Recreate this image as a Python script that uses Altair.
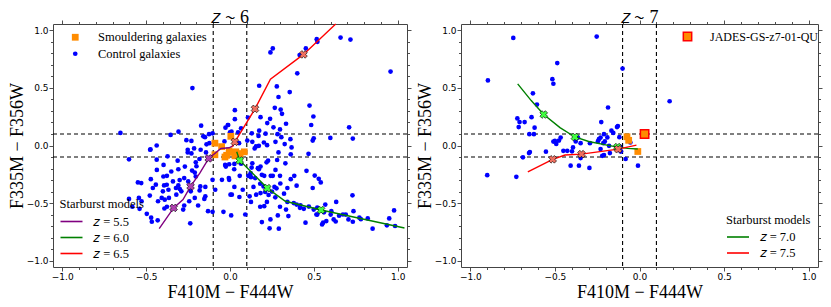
import altair as alt
import pandas as pd

# ---------------- data ----------------
TICKS = [-1.0, -0.9, -0.8, -0.7, -0.6, -0.5, -0.4, -0.3, -0.2, -0.1, 0.0,
         0.1, 0.2, 0.3, 0.4, 0.5, 0.6, 0.7, 0.8, 0.9, 1.0]
CUTS = [-0.1, 0.1]

# z~6 panel: control galaxies
ctrl6 = [
    (0.517, 0.923), (0.521, 0.90), (0.659, 0.937), (0.718, 0.92), (0.255, 0.843), (0.241, 0.808),
    (0.452, 0.843), (0.415, 0.785), (0.401, 0.627), (0.957, 0.642), (0.174, 0.519), (0.279, 0.513),
    (0.289, 0.421), (0.356, 0.464), (0.267, 0.327), (0.302, 0.312), (0.474, 0.347), (0.497, 0.252),
    (0.484, 0.178), (0.710, 0.158), (0.239, 0.232), (0.222, 0.195), (0.259, 0.158), (0.334, 0.189),
    (0.298, 0.140), (0.283, 0.098), (0.306, 0.072), (0.360, 0.055), (0.326, 0.012), (0.367, -0.017),
    (0.598, 0.066), (0.732, 0.060), (0.499, 0.063), (0.493, 0.043), (0.174, 0.129), (0.13, 0.106),
    (0.17, 0.083), (0.202, 0.026), (0.155, -0.008), (0.103, 0.043), (0.107, 0.243), (0.029, 0.307),
    (0.029, 0.229), (-0.011, 0.178), (0.066, 0.149), (0.009, 0.120), (0.048, 0.115), (0.054, 0.020),
    (-0.224, 0.499), (-0.653, 0.109), (-0.437, 0.0), (-0.354, 0.092), (-0.307, 0.120), (-0.172, 0.172),
    (-0.23, 0.04), (-0.149, 0.072), (-0.125, 0.098), (-0.104, 0.106), (-0.123, 0.020), (-0.027, 0.155),
    (-0.013, 0.178), (-0.033, 0.035), (0.0, 0.115), (-0.159, 0.08), (-0.14, 0.01), (-0.474, -0.034),
    (0.133, -0.155), (0.182, -0.183), (0.123, -0.24), (0.271, -0.212), (0.330, -0.155), (0.281, -0.126),
    (0.221, 0.003), (0.271, 0.032), (0.212, 0.103), (0.133, 0.032), (0.182, 0.246), (0.31, 0.275),
    (-0.476, -0.037), (-0.602, -0.12), (-0.437, -0.123), (-0.372, -0.094), (-0.312, -0.132),
    (-0.252, -0.037), (-0.252, -0.06), (-0.214, -0.025), (-0.175, -0.037), (-0.143, -0.06),
    (-0.182, -0.117), (-0.204, -0.146), (-0.269, -0.183), (-0.226, -0.218), (-0.21, -0.235),
    (-0.204, -0.269), (-0.376, -0.263), (-0.397, -0.269), (-0.472, -0.292), (-0.549, -0.321),
    (-0.529, -0.326), (-0.393, -0.347), (-0.377, -0.341), (-0.308, -0.347), (-0.322, -0.369),
    (-0.299, -0.378), (-0.367, -0.384), (-0.46, -0.369), (-0.478, -0.435), (-0.364, -0.455),
    (-0.407, -0.455), (-0.429, -0.484), (-0.602, -0.464), (-0.543, -0.455), (-0.527, -0.484),
    (-0.582, -0.532), (-0.539, -0.55), (-0.496, -0.593), (-0.47, -0.627), (-0.431, -0.65),
    (-0.466, -0.662), (-0.237, -0.676), (-0.391, -0.547), (-0.376, -0.532), (-0.273, -0.521),
    (-0.279, -0.556), (-0.243, -0.484), (-0.19, -0.521), (-0.153, -0.464), (-0.21, -0.455),
    (-0.234, -0.398), (-0.181, -0.39), (-0.177, -0.355), (-0.147, -0.36), (-0.249, -0.312),
    (-0.273, -0.283), (-0.308, -0.206), (-0.131, -0.57), (-0.104, -0.576), (-0.039, -0.576),
    (0.003, -0.427), (-0.029, -0.169), (-0.442, -0.34), (-0.436, -0.212), (-0.396, -0.169),
    (-0.4, -0.398), (-0.389, -0.47), (-0.35, -0.226), (-0.34, -0.312), (-0.32, -0.427), (-0.3, -0.3),
    (-0.29, -0.398), (-0.26, 0.046), (-0.23, -0.069), (-0.2, -0.18), (-0.025, -0.183),
    (-0.005, -0.163), (0.025, -0.206), (-0.048, -0.298), (-0.005, -0.298), (-0.104, -0.298),
    (-0.088, -0.384), (-0.147, -0.441),
    (0.147, -0.025), (0.172, -0.003), (0.289, -0.06), (0.362, -0.077), (0.468, -0.072), (0.026, -0.160),
    (0.066, -0.158), (0.129, -0.192), (0.166, -0.197), (0.218, -0.146), (0.227, -0.132), (-0.007, -0.283),
    (0.026, -0.36), (0.058, -0.263), (0.109, -0.263), (0.125, -0.275), (0.172, -0.206), (0.15, -0.283),
    (0.19, -0.255), (0.204, -0.263), (0.243, -0.263), (0.255, -0.263), (0.298, -0.263), (0.362, -0.292),
    (0.383, -0.263), (0.456, -0.220), (0.505, -0.261), (0.529, -0.289), (0.541, -0.321), (0.493, -0.369),
    (0.397, -0.349), (0.342, -0.369), (0.322, -0.418), (0.277, -0.372), (0.265, -0.36), (0.18, -0.332),
    (0.2, -0.355), (0.011, -0.427), (0.076, -0.384), (0.117, -0.441), (0.125, -0.49), (0.156, -0.427),
    (0.182, -0.413), (0.21, -0.404), (0.056, -0.447), (0.18, -0.532), (0.204, -0.527), (0.22, -0.49),
    (0.298, -0.532), (0.342, -0.49), (0.334, -0.556), (0.285, -0.607), (0.348, -0.613), (0.007, -0.607),
    (0.091, -0.599), (0.19, -0.665), (0.241, -0.642), (0.291, -0.722), (0.236, -0.719), (0.397, -0.513),
    (0.417, -0.541), (0.45, -0.67), (0.499, -0.556), (0.515, -0.599), (0.555, -0.67), (0.549, -0.685),
    (0.574, -0.656), (0.568, -0.513), (0.633, -0.49), (0.604, -0.57), (0.618, -0.642), (0.673, -0.599),
    (0.706, -0.642), (0.73, -0.433), (0.736, -0.57), (0.732, -0.662), (0.771, -0.627), (0.821, -0.633),
    (0.85, -0.722), (0.935, -0.693), (0.949, -0.633), (0.978, -0.564), (0.984, -0.699),
    (0.38, -0.5), (0.42, -0.52), (0.44, -0.55), (0.47, -0.53), (0.52, -0.54), (0.56, -0.58),
    (0.6, -0.6), (0.65, -0.61), (0.69, -0.6), (0.78, -0.64), (0.52, -0.6), (0.63, -0.66),
    (0.25, -0.4), (0.27, -0.45), (0.23, -0.43), (0.14, -0.36), (0.3, -0.33),
]
smoulder6 = [(-0.09, 0.02), (-0.05, -0.01), (0.005, 0.08), (-0.005, -0.045), (-0.02, -0.085),
             (0.0, -0.06), (0.035, -0.055), (0.06, -0.07), (0.085, -0.055), (-0.09, -0.08),
             (0.03, -0.09), (-0.03, -0.1)]

# starburst model tracks z~6 panel
m55_x = [-0.422, -0.336, -0.28, -0.235, -0.18, -0.127, -0.054, -0.005, 0.02]
m55_y = [-0.722, -0.542, -0.47, -0.355, -0.24, -0.112, -0.026, -0.02, 0.0]
m60_x = [0.04, 0.058, 0.222, 0.33, 0.543, 1.04]
m60_y = [-0.055, -0.13, -0.37, -0.484, -0.56, -0.716]
m65_x = [0.015, 0.029, 0.149, 0.241, 0.438, 0.63]
m65_y = [-0.01, 0.032, 0.318, 0.576, 0.791, 1.055]
mk55 = [(-0.336, -0.542), (-0.235, -0.355), (-0.127, -0.112)]
mk60 = [(0.058, -0.13), (0.222, -0.37), (0.543, -0.56)]
mk65 = [(0.029, 0.032), (0.149, 0.318), (0.438, 0.791)]

# z~7 panel
ctrl7 = [
    (-0.746, 0.934), (-0.253, 0.946), (-0.896, 0.565), (-0.486, 0.716), (-0.515, 0.576), (-0.509, 0.536),
    (-0.1, 0.668), (-0.63, 0.453), (-0.606, 0.355), (-0.186, 0.33), (-0.722, 0.235), (-0.709, 0.203),
    (-0.679, 0.203), (-0.638, 0.246), (-0.714, 0.16), (-0.62, 0.155), (-0.651, 0.098), (-0.624, 0.098),
    (-0.226, 0.203), (-0.133, 0.16), (-0.128, 0.169), (-0.166, 0.129), (-0.155, 0.109), (-0.21, 0.098),
    (-0.19, 0.07), (-0.24, 0.055), (-0.23, 0.069), (-0.246, 0.035), (-0.466, 0.069), (-0.476, 0.043),
    (-0.5, 0.04), (-0.509, 0.034), (-0.492, 0.014), (-0.364, 0.069), (-0.348, 0.02), (-0.377, 0.035),
    (-0.293, 0.02), (-0.214, 0.02), (-0.205, 0.035), (-0.23, -0.031), (-0.393, -0.017), (-0.399, -0.051),
    (-0.45, -0.046), (-0.427, -0.046), (-0.553, -0.054), (-0.648, -0.057), (-0.653, -0.066),
    (-0.689, -0.103), (-0.348, -0.109), (-0.407, -0.175), (-0.358, -0.175), (-0.296, -0.195),
    (-0.21, -0.083), (-0.22, -0.09), (-0.175, -0.066), (-0.111, -0.052), (-0.082, -0.117),
    (-0.009, -0.175), (-0.9, -0.258), (-0.728, -0.272), (-0.054, 0.026), (-0.115, -0.01),
    (-0.18, -0.003), (0.178, 0.384), (-0.119, 0.072), (-0.11, -0.051),
]
smoulder7 = [(-0.074, 0.076), (-0.064, 0.045), (-0.01, -0.052)]
jades = [(0.03, 0.1)]
m70_x = [-0.72, -0.64, -0.566, -0.47, -0.382, -0.3, -0.2, -0.13, -0.07, -0.01]
m70_y = [0.535, 0.39, 0.269, 0.155, 0.074, 0.035, 0.005, -0.014, -0.025, -0.03]
m75_x = [-0.66, -0.513, -0.44, -0.343, -0.126, -0.018]
m75_y = [-0.229, -0.12, -0.083, -0.075, -0.032, 0.003]
mk70 = [(-0.566, 0.269), (-0.382, 0.074), (-0.13, -0.014)]
mk75 = [(-0.513, -0.12), (-0.343, -0.075), (-0.126, -0.032)]

Z = "\U0001D467"
L55, L60, L65, L70, L75 = (f"{Z} = 5.5", f"{Z} = 6.0", f"{Z} = 6.5", f"{Z} = 7.0", f"{Z} = 7.5")
SMOULD, CTRL, JADES = "Smouldering galaxies", "Control galaxies", "JADES-GS-z7-01-QU"

# ---------------- styling helpers ----------------
DOM = [-1.055, 1.055]
W_LEFT, W_RIGHT, H = 354, 357, 243
SERIF = "Liberation Serif"
MAJOR = "abs(datum.value*2 - round(datum.value*2)) < 0.01"
LINE_SYMBOL = "M-1,0H1.75"


def axis(orient, title=None, labels=True, tpad=0):
    return alt.Axis(
        orient=orient, values=TICKS, title=title, labels=labels, grid=False,
        labelExpr=f"{MAJOR} ? format(datum.value, '.1f') : ''",
        tickSize={"condition": {"test": MAJOR, "value": 4}, "value": 2.5},
        tickColor="#222", tickWidth=0.8, domainColor="#444", domainWidth=1,
        labelFont="DejaVu Sans", labelFontSize=9, labelColor="black", labelPadding=1,
        labelFlush=False, labelOverlap=False,
        titleFont=SERIF, titleFontSize=18, titleFontWeight="normal", titleColor="black",
        titlePadding=tpad)


def sc():
    return alt.Scale(domain=DOM, nice=False, zero=False)


def pts(lst, kind):
    return pd.DataFrame({"x": [p[0] for p in lst], "y": [p[1] for p in lst], "type": kind})


def track(xs, ys, label):
    return pd.DataFrame({"x": xs, "y": ys, "model": label, "i": list(range(len(xs)))})


def rules():
    v = alt.Chart(pd.DataFrame({"v": CUTS})).mark_rule(
        strokeDash=[4, 3], color="black", strokeWidth=1.1).encode(
        x=alt.X("v:Q", scale=sc(), axis=axis("top", labels=False)))
    h = alt.Chart(pd.DataFrame({"h": CUTS})).mark_rule(
        strokeDash=[4, 3], color="black", strokeWidth=1.1).encode(
        y=alt.Y("h:Q", scale=sc(), axis=axis("right", labels=False)))
    return v, h


def leg(lx, ly, title=None, **kw):
    base = dict(orient="none", legendX=lx, legendY=ly, labelFont=SERIF, labelFontSize=12.5,
                labelColor="black", titleFont=SERIF, titleFontSize=12.5, titleFontWeight="normal",
                titleColor="black", padding=0, rowPadding=0)
    base.update(kw)
    return alt.Legend(title=title, **base)


def model_leg(lx, ly):
    return leg(lx, ly, "Starburst models", symbolType=LINE_SYMBOL, symbolSize=256,
               symbolStrokeWidth=1.6, labelOffset=15.5, titlePadding=2, rowPadding=0)


X = alt.X("x:Q", scale=sc(), axis=None)
Y = alt.Y("y:Q", scale=sc(), axis=None)
XB = alt.X("x:Q", scale=sc(), axis=axis("bottom", title="F410M − F444W", tpad=2.5))
YL = alt.Y("y:Q", scale=sc(), axis=axis("left", title="F335M − F356W", tpad=0))


def tracks_layers(tracks, marks, mcolors, mfills, legend_lines):
    tdf = pd.concat(tracks, ignore_index=True)
    labels = [t["model"].iloc[0] for t in tracks]
    lines = alt.Chart(tdf).mark_line(strokeWidth=1.4).encode(
        x=X, y=Y, detail="model:N", order="i:Q",
        stroke=alt.Stroke("model:N", scale=alt.Scale(domain=labels, range=mcolors),
                          legend=legend_lines))
    mdf = pd.concat([pd.DataFrame({"x": [p[0] for p in m], "y": [p[1] for p in m], "model": lab})
                     for m, lab in zip(marks, labels)], ignore_index=True)
    markers = alt.Chart(mdf).mark_point(shape="cross", angle=45, filled=True, size=60,
                                         stroke="black", strokeWidth=0.6, opacity=1).encode(
        x=X, y=Y, color=alt.Color("model:N", scale=alt.Scale(domain=labels, range=mfills), legend=None))
    return [lines, markers]


def title(txt):
    return alt.TitleParams(txt, font=SERIF, fontSize=18, fontWeight="normal", color="black",
                           offset=-7, anchor="middle")


# ---- left panel (z ~ 6) ----
v6, h6 = rules()
sdf6 = pd.concat([pts(ctrl6, CTRL), pts(smoulder6, SMOULD)], ignore_index=True)
DOMS = [SMOULD, CTRL]
lg6 = leg(16, 7, None, labelOffset=16.5, symbolStrokeWidth=0, rowPadding=3.5)
scatter6 = alt.Chart(sdf6).mark_point(filled=True, opacity=1, strokeWidth=0).encode(
    x=XB, y=YL,
    fill=alt.Fill("type:N", scale=alt.Scale(domain=DOMS, range=["#ff8c00", "#0000ff"]), legend=lg6),
    shape=alt.Shape("type:N", scale=alt.Scale(domain=DOMS, range=["square", "circle"]), legend=lg6),
    size=alt.Size("type:N", scale=alt.Scale(domain=DOMS, range=[46, 22]), legend=lg6))
tl6 = tracks_layers([track(m55_x, m55_y, L55), track(m60_x, m60_y, L60), track(m65_x, m65_y, L65)],
                    [mk55, mk60, mk65], ["#800080", "#008000", "#ff0000"],
                    ["#b040b0", "#40ff40", "#f07060"], model_leg(6.5, 174))
left = alt.layer(v6, h6, scatter6, *tl6).properties(width=W_LEFT, height=H, title=title(f"{Z} ∼ 6"))

# ---- right panel (z ~ 7) ----
v7, h7 = rules()
ctrl_pts7 = alt.Chart(pts(ctrl7, CTRL)).mark_circle(size=22, color="#0000ff", opacity=1).encode(
    x=XB, y=YL)
sm_pts7 = alt.Chart(pts(smoulder7, SMOULD)).mark_square(size=46, color="#ff8c00", opacity=1).encode(
    x=X, y=Y)
tl7 = tracks_layers([track(m70_x, m70_y, L70), track(m75_x, m75_y, L75)],
                    [mk70, mk75], ["#008000", "#ff0000"], ["#40ff40", "#f07060"],
                    model_leg(265, 189.5))
jdf = pd.DataFrame({"x": [p[0] for p in jades], "y": [p[1] for p in jades], "label": JADES})
jchart = alt.Chart(jdf).mark_square(size=70, stroke="red", strokeWidth=1.5, opacity=1).encode(
    x=X, y=Y,
    fill=alt.Fill("label:N", scale=alt.Scale(domain=[JADES], range=["#ff8c00"]),
                  legend=leg(220.5, 6.5, None, labelOffset=16.5, symbolStrokeColor="red",
                             symbolStrokeWidth=1.5, symbolSize=70, symbolType="square",
                             labelFontSize=12)))
right = alt.layer(v7, h7, ctrl_pts7, sm_pts7, *tl7, jchart).properties(
    width=W_RIGHT, height=H, title=title(f"{Z} ∼ 7"))

chart = alt.hconcat(left, right, spacing=4).resolve_scale(
    fill="independent", stroke="independent", color="independent",
    shape="independent", size="independent").resolve_legend(
    fill="independent", stroke="independent", shape="independent", size="independent").properties(
    padding=0).configure_view(stroke=None)
chart.save("out.html", embed_options={"renderer": "svg", "actions": False})
